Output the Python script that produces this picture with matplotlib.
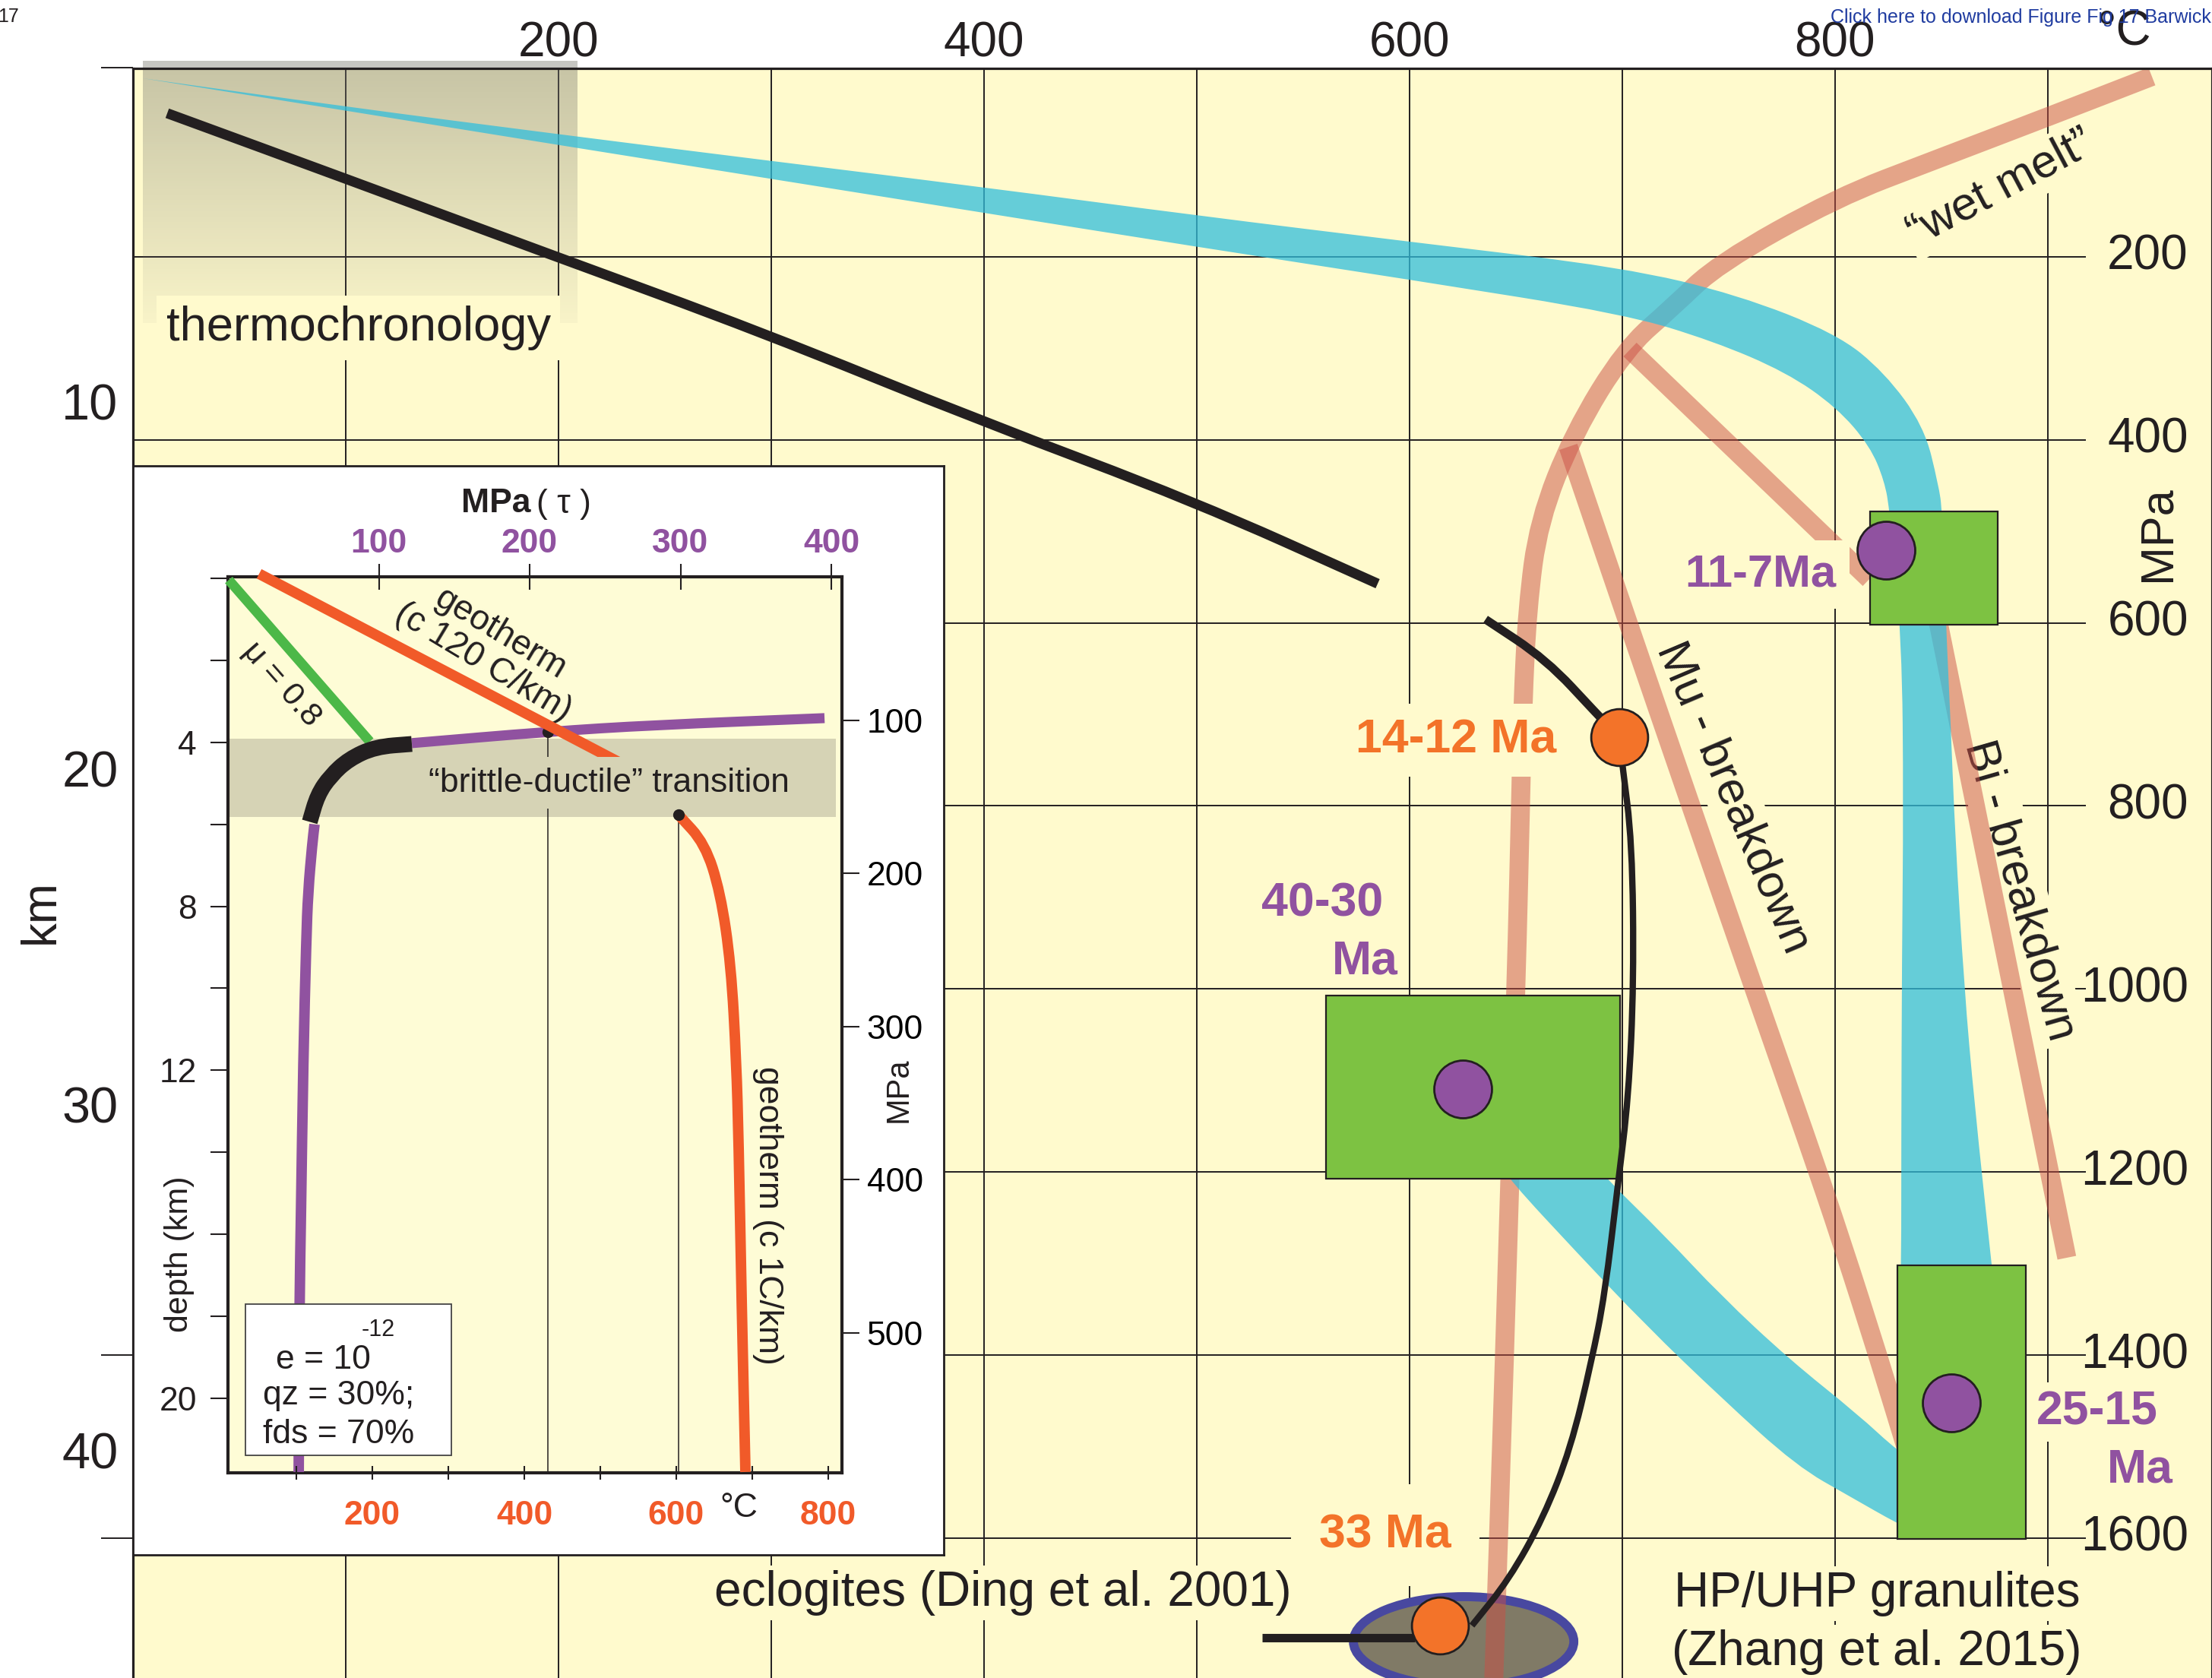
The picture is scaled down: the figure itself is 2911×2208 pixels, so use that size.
import numpy as np
import matplotlib
matplotlib.use("Agg")
import matplotlib.pyplot as plt
from matplotlib.patches import Rectangle, Ellipse, PathPatch
from matplotlib.path import Path

plt.rcParams["font.family"] = ["Liberation Sans", "DejaVu Sans"]

W, H = 2911, 2208
INK = "#231f20"
YELLOW = "#fffacd"
INSET_YELLOW = "#fefcd6"
PURPLE = "#9052a0"
ORANGE = "#f37329"
RED_ORANGE = "#f15a29"
GREEN = "#7dc242"
CYAN = "#32bedc"
PINK = "#cb5045"
BAND_GRAY = "#d6d3b5"

# ---------------- main diagram data (T in °C, P in MPa) ----------------
temp_grid = [100, 200, 300, 400, 500, 600, 700, 800, 900]
temp_ticks = [200, 400, 600, 800]
press_grid = [200, 400, 600, 800, 1000, 1200, 1400, 1600]
press_labels = ["200", "400", "600", "800", "1000", "1200", "1400", "1600"]
km_ticks = [10, 20, 30, 40]
# depth (km) scale: pressure at each depth mark
km_ref = [0, 10, 20, 30, 40, 50]
km_ref_press = [-8, 358, 759, 1126, 1504, 1882]
left_tick_press = [-7, 1400, 1600]

# cyan P-T band: outer edge and inner edge
band_a_outer_T = [4.6, 98.9, 198.2, 294.6, 398.6, 498.2, 602.5, 700.7, 754.3, 800.7, 823.2,
                  841.8, 848.6, 850.4, 852.1, 854.3, 856.4, 860.7, 865.4, 873.6, 875.0]
band_a_outer_P = [5.0, 35.7, 65.6, 93.8, 123.7, 154.4, 184.3, 211.7, 241.6, 284.0, 326.3,
                  385.3, 449.2, 478.3, 602.0, 708.3, 832.8, 998.9, 1123.5, 1302.0, 1331.1]
band_a_inner_T = [830.4, 831.1, 831.1, 831.4, 832.1, 831.4, 825.7, 823.2, 816.4, 800.7,
                  777.1, 742.9, 700.7, 602.5, 498.2, 398.6, 294.6, 198.2, 98.9, 4.6]
band_a_inner_P = [1331.1, 1302.0, 1165.0, 972.3, 797.1, 621.1, 478.3, 445.1, 406.9, 364.5,
                  326.3, 292.3, 262.4, 225.9, 188.5, 151.5, 112.9, 77.2, 39.9, 5.0]
band_b_outer_T = [687.5, 691.8, 719.6, 746.4, 778.6, 810.7, 830.0, 844.6]
band_b_outer_P = [1189.9, 1205.7, 1268.8, 1335.2, 1405.0, 1464.8, 1506.3, 1526.2]
band_b_inner_T = [844.6, 830.0, 807.5, 781.8, 746.4, 711.1, 678.9, 646.8, 642.9]
band_b_inner_P = [1600.9, 1585.1, 1555.3, 1521.2, 1446.5, 1367.6, 1288.7, 1208.2, 1189.9]

# pink reaction curves
wet_T = [948.9, 900.7, 846.4, 800.7, 745.0, 723.2, 701.4, 677.1, 660.7, 655.4,
         653.2, 652.5, 650.0, 647.1, 644.6, 641.8, 639.6]
wet_P = [3.0, 46.5, 94.7, 135.4, 207.6, 255.8, 300.6, 392.8, 489.1, 583.7,
         690.9, 765.6, 1003.9, 1208.2, 1402.5, 1600.1, 1752.9]
link_T = [703.6, 816.1]
link_P = [301.4, 552.2]
mu_T = [674.6, 702.5, 731.8, 762.5, 786.8, 803.2, 820.4, 833.9]
mu_P = [407.7, 598.7, 797.1, 1003.9, 1165.0, 1277.1, 1402.5, 1505.4]
bi_T = [846.4, 908.9]
bi_P = [575.4, 1293.7]

# black geotherm / path
geo_T = [16.1, 98.9, 198.2, 294.6, 398.6, 498.2, 585.0]
geo_P = [43.2, 113.8, 199.3, 281.5, 379.5, 466.7, 557.2]
path1_T = [635.7, 664.3, 688.2, 698.6]
path1_P = [596.2, 640.2, 700.0, 724.9]
path2_T = [698.6, 700.0, 704.6, 705.4, 702.9, 697.9, 691.8, 685.4, 675.7, 662.9, 646.8, 629.3]
path2_P = [724.9, 754.8, 839.5, 991.4, 1118.5, 1214.0, 1333.6, 1408.3, 1502.0, 1577.7, 1645.0, 1695.6]
exh_T = [530.7, 602.5]
exh_P = [1709.0, 1709.0]

# green P-T boxes
box_T0 = [816.4, 560.7, 829.3]
box_T1 = [876.4, 698.9, 889.6]
box_P0 = [478.3, 1007.6, 1302.0]
box_P1 = [602.0, 1207.7, 1601.0]

purple_T = [823.9, 625.0, 854.6]
purple_P = [520.6, 1109.0, 1452.0]
orange_T = [698.6, 614.3]
orange_P = [724.9, 1696.0]

ecl_center = (625.4, 1713.0)
ecl_size = (103.6, 98.0)

thermo_T = (4.6, 208.6)
thermo_P = (-14.0, 272.0)

# ---------------- inset data ----------------
tau_ticks = [100, 200, 300, 400]
inset_T_ticks = [100, 200, 300, 400, 500, 600, 700, 800]
inset_T_labels = ["", "200", "", "400", "", "600", "", "800"]
depth_ticks = [0, 2, 4, 6, 8, 10, 12, 14, 16, 18, 20]
depth_labels = ["", "", "4", "", "8", "", "12", "", "", "", "20"]
mpa_ticks = [100, 200, 300, 400, 500]

mu_tau = [0.5, 94.0]
mu_z = [0.04, 3.98]
ductile_tau = [46.9, 47.4, 48.4, 49.9, 51.9, 53.1, 55.9, 57.4]
ductile_z = [21.8, 17.66, 15.55, 11.79, 8.84, 7.66, 6.47, 6.0]
trans_tau = [54.2, 59.4, 68.0, 80.1, 97.7, 121.9]
trans_z = [5.94, 5.28, 4.82, 4.41, 4.11, 4.04]
brittle_tau = [121.9, 212.0, 281.6, 395.5]
brittle_z = [4.02, 3.74, 3.58, 3.41]
geo120_T = [51.0, 557.0]
geo120_z = [-0.11, 4.8]
geo1_T = [603.0, 637.6, 658.0, 672.0, 679.0, 682.0, 686.0, 691.0]
geo1_z = [5.77, 6.47, 7.66, 9.43, 11.79, 13.7, 17.66, 21.8]
bdt_z = (3.91, 5.82)
dot_tau, dot_tau_z = 212.0, 3.74
dot_T, dot_T_z = 603.0, 5.77


# ---------------- helpers: smooth (quadratic B-spline) paths ----------------
def _smooth_parts(xs, ys):
    pts = list(zip(xs, ys))
    verts, codes = [], []
    if len(pts) < 3:
        for p in pts:
            verts.append(p)
            codes.append(Path.LINETO)
        return verts, codes
    m = ((pts[0][0] + pts[1][0]) / 2, (pts[0][1] + pts[1][1]) / 2)
    verts += [pts[0], m]
    codes += [Path.LINETO, Path.LINETO]
    for i in range(1, len(pts) - 1):
        m = ((pts[i][0] + pts[i + 1][0]) / 2, (pts[i][1] + pts[i + 1][1]) / 2)
        verts += [pts[i], m]
        codes += [Path.CURVE3, Path.CURVE3]
    verts.append(pts[-1])
    codes.append(Path.LINETO)
    return verts, codes


def smooth_line(xs, ys):
    v, c = _smooth_parts(xs, ys)
    c[0] = Path.MOVETO
    return Path(v, c)


def smooth_band(x1, y1, x2, y2):
    v1, c1 = _smooth_parts(x1, y1)
    v2, c2 = _smooth_parts(x2, y2)
    c1[0] = Path.MOVETO
    v = v1 + v2 + [v1[0]]
    c = c1 + c2 + [Path.CLOSEPOLY]
    return Path(v, c)


def draw_line(axis, xs, ys, **kw):
    patch = PathPatch(smooth_line(xs, ys), fill=False, capstyle="butt",
                      joinstyle="round", **kw)
    axis.add_patch(patch)
    return patch


# ---------------- figure ----------------
fig = plt.figure(figsize=(W / 100, H / 100), dpi=100)
fig.patch.set_facecolor("white")


def fx(px):
    return px / W


def fy(py):
    return 1 - py / H


ax = fig.add_axes([fx(175), 0, 1 - fx(175), fy(90)])
ax.set_facecolor(YELLOW)
T_MAX = (W - 175) / 2.80
P_TOP = (90 - 97) / 1.2043
P_BOT = (H - 97) / 1.2043
for s in ("left", "top", "right"):
    ax.spines[s].set_linewidth(2.3)
    ax.spines[s].set_color(INK)
ax.spines["bottom"].set_visible(False)
ax.xaxis.tick_top()
ax.set_xticks(temp_ticks)
ax.set_xticklabels([str(t) for t in temp_ticks])
ax.tick_params(axis="x", length=0, labelsize=46, pad=2, colors=INK)
ax.set_yticks([])


def p2km(p):
    return np.interp(p, km_ref_press, km_ref, left=-1e9, right=1e9)


def km2p(k):
    return np.interp(k, km_ref, km_ref_press, left=-1e9, right=1e9)


sec = ax.secondary_yaxis("left", functions=(p2km, km2p))
sec.set_yticks(km_ticks)
sec.set_yticklabels([str(k) for k in km_ticks])
sec.tick_params(length=0, labelsize=48, pad=14, colors=INK)
sec.spines["left"].set_visible(False)

# grid
ax.vlines(temp_grid, P_TOP, P_BOT, color=INK, lw=1.4, zorder=1)
ax.hlines(press_grid, 0, 918, color=INK, lw=1.4, zorder=1)
ax.hlines(left_tick_press, -15, 0, color=INK, lw=1.4, clip_on=False)

# thermochronology gradient
n = 200
grad = np.zeros((n, 1, 4))
grad[..., 0] = 0.47
grad[..., 1] = 0.47
grad[..., 2] = 0.43
grad[:, 0, 3] = np.linspace(0.42, 0.05, n)
ax.imshow(grad, extent=(thermo_T[0], thermo_T[1], thermo_P[1], thermo_P[0]),
          origin="upper", aspect="auto", zorder=1.2, clip_on=False,
          interpolation="bilinear")

# eclogite field
ax.add_patch(Ellipse(ecl_center, ecl_size[0], ecl_size[1], facecolor="#807a66",
                     edgecolor="#4848a0", lw=8.5, zorder=1.8))

# pink reaction curves
for Ts, Ps in [(wet_T, wet_P), (link_T, link_P), (mu_T, mu_P), (bi_T, bi_P)]:
    draw_line(ax, Ts, Ps, edgecolor=PINK, alpha=0.5, lw=18, zorder=2)

# cyan band
ax.add_patch(PathPatch(smooth_band(band_a_outer_T, band_a_outer_P, band_a_inner_T, band_a_inner_P),
                       facecolor=CYAN, alpha=0.75, lw=0, zorder=3))
ax.add_patch(PathPatch(smooth_band(band_b_outer_T, band_b_outer_P, band_b_inner_T, band_b_inner_P),
                       facecolor=CYAN, alpha=0.75, lw=0, zorder=3))

# green boxes
for t0, t1, p0, p1 in zip(box_T0, box_T1, box_P0, box_P1):
    ax.add_patch(Rectangle((t0, p0), t1 - t0, p1 - p0, facecolor=GREEN,
                           edgecolor=INK, lw=1.6, zorder=4))

# black lines
draw_line(ax, geo_T, geo_P, edgecolor=INK, lw=9.5, zorder=5)
draw_line(ax, path1_T, path1_P, edgecolor=INK, lw=8, zorder=5)
draw_line(ax, path2_T, path2_P, edgecolor=INK, lw=6, zorder=5)
ax.plot(exh_T, exh_P, color=INK, lw=8, solid_capstyle="butt", zorder=5)

# dots
ax.scatter(purple_T, purple_P, s=2990, c=PURPLE, edgecolors=INK, linewidths=2, zorder=6)
ax.scatter(orange_T, orange_P, s=2900, c=ORANGE, edgecolors=INK, linewidths=2, zorder=6)

# texts main
ybox = dict(boxstyle="square,pad=0.2", fc=YELLOW, ec="none")
ax.text(106, 291.5, "thermochronology", fontsize=45.5, ha="center", va="baseline",
        color=INK, bbox=ybox, zorder=1.5)
ax.text(621.8, 728.2, "14-12 Ma", fontsize=45, fontweight="bold", color=ORANGE,
        ha="center", va="center", zorder=2.5,
        bbox=dict(boxstyle="square,pad=0.3", fc=YELLOW, ec="none"))
ax.text(765, 547.2, "11-7Ma", fontsize=43, fontweight="bold", color=PURPLE,
        ha="center", va="center", zorder=2.5,
        bbox=dict(boxstyle="square,pad=0.3", fc=YELLOW, ec="none"))
ax.text(559, 906.7, "40-30", fontsize=45, fontweight="bold", color=PURPLE,
        ha="center", va="center", zorder=2.5)
ax.text(579, 970, "Ma", fontsize=45, fontweight="bold", color=PURPLE,
        ha="center", va="center", zorder=2.5)
ax.text(923.2, 1462.3, "25-15", fontsize=45, fontweight="bold", color=PURPLE,
        ha="center", va="center", zorder=2.5,
        bbox=dict(boxstyle="square,pad=0.15", fc=YELLOW, ec="none"))
ax.text(943.2, 1525.4, "Ma", fontsize=45, fontweight="bold", color=PURPLE,
        ha="center", va="center", zorder=2.5)
ax.text(588.6, 1596.8, "33 Ma", fontsize=45, fontweight="bold", color=ORANGE,
        ha="center", va="center", zorder=2.5,
        bbox=dict(boxstyle="square,pad=0.6", fc=YELLOW, ec="none"))
ax.text(409, 1674, "eclogites (Ding et al. 2001)", fontsize=46, ha="center",
        va="baseline", color=INK, zorder=2.6,
        bbox=dict(boxstyle="square,pad=0.1", fc=YELLOW, ec="none"))
ax.text(819.6, 1674.8, "HP/UHP granulites", fontsize=46, ha="center",
        va="baseline", color=INK, zorder=2.5,
        bbox=dict(boxstyle="square,pad=0.1", fc=YELLOW, ec="none"))
ax.text(819.6, 1738.8, "(Zhang et al. 2015)", fontsize=46, ha="center",
        va="baseline", color=INK, zorder=2.5,
        bbox=dict(boxstyle="square,pad=0.1", fc=YELLOW, ec="none"))
ax.text(752, 791.3, "Mu - breakdown", fontsize=44, rotation=-67, ha="center",
        va="center", rotation_mode="anchor", color=INK, zorder=1.5,
        bbox=dict(boxstyle="square,pad=0.1", fc=YELLOW, ec="none"))
ax.text(886.8, 892.6, "Bi - breakdown", fontsize=44, rotation=-74, ha="center",
        va="center", rotation_mode="anchor", color=INK, zorder=1.5,
        bbox=dict(boxstyle="square,pad=0.1", fc=YELLOW, ec="none"))
ax.text(877.9, 125.4, "\u201cwet melt\u201d", fontsize=44, rotation=28, ha="center",
        va="center", rotation_mode="anchor", color=INK, zorder=1.5,
        bbox=dict(boxstyle="square,pad=0.1", fc=YELLOW, ec="none"))
ax.text(951.8, 502.4, "MPa", fontsize=44, rotation=90, ha="center", va="center",
        color=INK, zorder=2.5)
for p, lab in zip(press_grid, press_labels):
    ax.text(966, p, lab, fontsize=46, ha="right", va="center", color=INK, zorder=2.5)

ax.set_xlim(0, T_MAX)
ax.set_ylim(P_BOT, P_TOP)

fig.text(fx(54), fy(1200), "km", fontsize=46, rotation=90, ha="center", va="center", color=INK)
fig.text(fx(2795), fy(42), "\u00b0C", fontsize=46, ha="center", va="center", color=INK)
fig.text(fx(25), fy(22), "17", fontsize=18, ha="right", va="center", color=INK)
fig.text(fx(2409), fy(23), "Click here to download Figure Fig 17 Barwick.pdf",
         fontsize=18, ha="left", va="center", color="#203ca0")

# ---------------- inset ----------------
box_ax = fig.add_axes([fx(175), fy(2046), fx(1242) - fx(175), fy(613) - fy(2046)], zorder=10)
box_ax.set_xticks([])
box_ax.set_yticks([])
box_ax.set_facecolor("white")
for s in box_ax.spines.values():
    s.set_linewidth(2)
    s.set_color(INK)

ins = fig.add_axes([fx(300), fy(1937.5), fx(1108) - fx(300), fy(759) - fy(1937.5)], zorder=11)
ins.set_facecolor(INSET_YELLOW)
ax_T = ins.twiny()
ax_T.set_zorder(12)
ax_T.patch.set_visible(False)
for s in ax_T.spines.values():
    s.set_visible(False)
for s in ins.spines.values():
    s.set_linewidth(3)
    s.set_color(INK)

ins.set_xlim(0, 407.05)
ins.set_ylim(21.81, -0.037)
ax_T.set_xlim(10, 818)

ins.xaxis.tick_top()
ins.set_xticks(tau_ticks)
ins.set_xticklabels([str(v) for v in tau_ticks])
ins.tick_params(axis="x", direction="inout", length=25, width=1.5, labelsize=32,
                pad=4, labelcolor=PURPLE, color=INK)
for lab in ins.get_xticklabels():
    lab.set_fontweight("bold")
ins.set_yticks(depth_ticks)
ins.set_yticklabels(depth_labels)
ins.tick_params(axis="y", direction="out", length=16.5, width=1.5, labelsize=32,
                pad=13, color=INK, labelcolor=INK)

ax_T.xaxis.tick_bottom()
ax_T.set_xticks(inset_T_ticks)
ax_T.set_xticklabels(inset_T_labels)
ax_T.tick_params(axis="x", direction="inout", length=13, width=1.5, labelsize=32,
                 pad=20, labelcolor=RED_ORANGE, color=INK)
for lab in ax_T.get_xticklabels():
    lab.set_fontweight("bold")


def km2mpa(k):
    return 7.44 + 26.77 * np.asarray(k)


def mpa2km(m):
    return (np.asarray(m) - 7.44) / 26.77


sec2 = ins.secondary_yaxis("right", functions=(km2mpa, mpa2km))
sec2.set_yticks(mpa_ticks)
sec2.set_yticklabels([str(m) for m in mpa_ticks])
sec2.tick_params(direction="out", length=16.5, width=1.5, labelsize=32, pad=7, color=INK)
sec2.spines["right"].set_visible(False)

# brittle-ductile band
ins.axhspan(bdt_z[0], bdt_z[1], xmin=0, xmax=403 / 407.05, color=BAND_GRAY, lw=0, zorder=1)

ins.plot(mu_tau, mu_z, color="#4cb848", lw=9.3, solid_capstyle="butt", zorder=3, clip_on=False)
draw_line(ins, ductile_tau, ductile_z, edgecolor=PURPLE, lw=10, zorder=3)
draw_line(ins, brittle_tau, brittle_z, edgecolor=PURPLE, lw=9.5, zorder=3)
draw_line(ins, trans_tau, trans_z, edgecolor=INK, lw=15, zorder=4)
ins.vlines(dot_tau, dot_tau_z, 21.81, color=INK, lw=1.1, zorder=2)
ins.plot([dot_tau], [dot_tau_z], "o", ms=10, color=INK, zorder=6)

ins.text(35.3, 2.58, "\u03bc = 0.8", fontsize=31, rotation=-48.6, ha="center", va="center",
         rotation_mode="anchor", color=INK, zorder=5)
ins.text(175.0, 1.70, "geotherm\n(c 120 C/km)", fontsize=33, rotation=-31, ha="center",
         va="center", rotation_mode="anchor", linespacing=1.0, color=INK, zorder=5,
         multialignment="center")

# strain-rate box
ins.add_patch(Rectangle((11.6, 17.7), 136.4, 3.7, facecolor="white", edgecolor="#444444",
                        lw=1.3, zorder=8))
ins.text(31.7, 19.07, "e = 10", fontsize=32, ha="left", va="center", color=INK, zorder=9)
ins.text(88.7, 18.33, "-12", fontsize=22, ha="left", va="center", color=INK, zorder=9)
ins.text(23.2, 19.93, "qz = 30%;", fontsize=32, ha="left", va="center", color=INK, zorder=9)
ins.text(23.2, 20.89, "fds = 70%", fontsize=32, ha="left", va="center", color=INK, zorder=9)

ax_T.plot(geo120_T, geo120_z, color=RED_ORANGE, lw=10, solid_capstyle="butt", zorder=3, clip_on=False)
draw_line(ax_T, geo1_T, geo1_z, edgecolor=RED_ORANGE, lw=10, zorder=3)
ax_T.vlines(dot_T, dot_T_z, 21.81, color=INK, lw=1.1, zorder=2)
ax_T.plot([dot_T], [dot_T_z], "o", ms=10, color=INK, zorder=6)
ax_T.text(511, 4.99, "\u201cbrittle-ductile\u201d transition", fontsize=32, ha="center",
          va="center", color=INK, zorder=5,
          bbox=dict(boxstyle="square,pad=0.3", fc=BAND_GRAY, ec="none"))
ax_T.text(720, 15.55, "geotherm (c 1C/km)", fontsize=32, rotation=-90, ha="center",
          va="center", rotation_mode="anchor", color=INK, zorder=5)
ax_T.set_xlim(10, 818)
ins.set_ylim(21.81, -0.037)

fig.text(fx(699), fy(663), "MPa", fontsize=32, fontweight="bold", ha="right", va="center",
         color=INK, zorder=20)
fig.text(fx(706), fy(663), "( \u03c4 )", fontsize=32, ha="left", va="center", color=INK, zorder=20)
fig.text(fx(972), fy(1985), "\u00b0C", fontsize=32, ha="center", va="center", color=INK, zorder=20)
fig.text(fx(236), fy(1650), "depth (km)", fontsize=31, rotation=90, ha="center", va="center",
         color=INK, zorder=20)
fig.text(fx(1183), fy(1434), "MPa", fontsize=30, rotation=90, ha="center", va="center",
         color=INK, zorder=20)

fig.savefig("out.png", dpi=100, facecolor="white")
